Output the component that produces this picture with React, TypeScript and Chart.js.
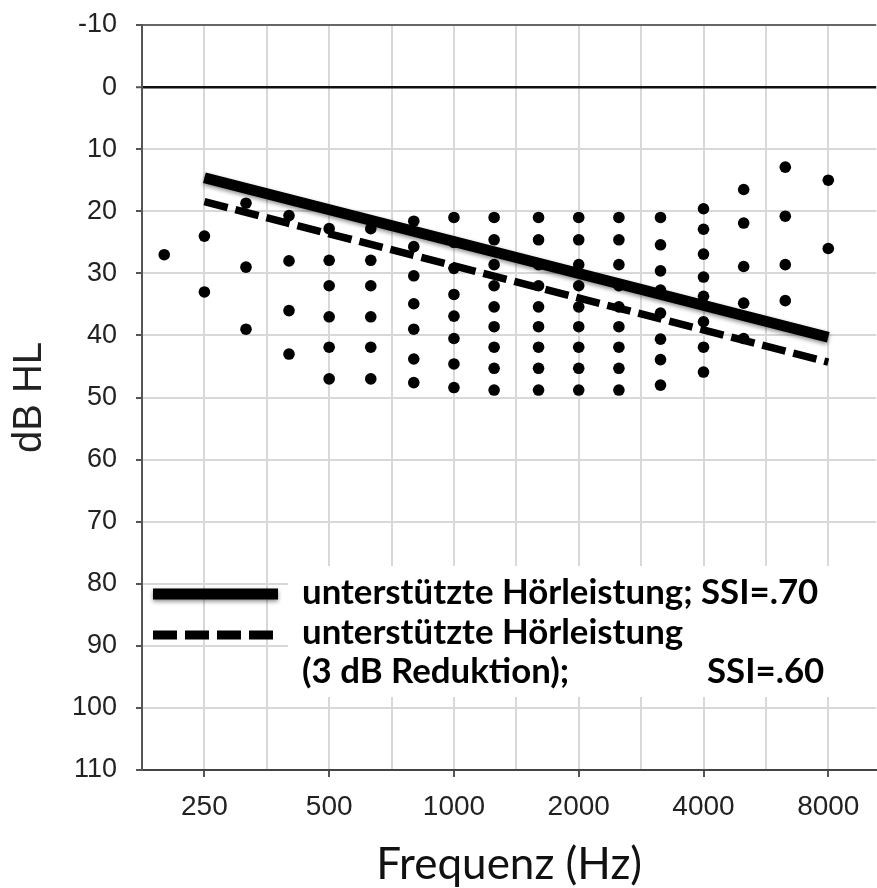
import React, { useEffect, useRef } from "react";
import { Chart, registerables } from "chart.js";

Chart.register(...registerables);

// Third-octave bands (Hz) where individual thresholds are plotted
const bandHz = [200, 250, 315, 400, 500, 630, 800, 1000, 1250, 1600, 2000, 2500, 3150, 4000, 5000, 6300, 8000];

// Individual aided thresholds (dB HL) per band
const hl200 = [27];
const hl250 = [24, 33];
const hl315 = [18.7, 29, 39];
const hl400 = [20.7, 28, 36, 43];
const hl500 = [22.8, 27.9, 32, 37, 41.9, 47];
const hl630 = [22.8, 27.9, 32, 37, 41.9, 47];
const hl800 = [21.6, 25.7, 30.4, 34.9, 39, 43.8, 47.6];
const hl1000 = [21, 25, 29.2, 33.4, 36.9, 40.5, 44.6, 48.4];
const hl1250 = [21, 24.6, 28.6, 32, 35.4, 38.6, 41.9, 45.3, 48.8];
const hl1600 = [21, 24.6, 28.6, 32, 35.4, 38.6, 41.9, 45.3, 48.8];
const hl2000 = [21, 24.6, 28.6, 32, 35.4, 38.6, 41.9, 45.3, 48.8];
const hl2500 = [21, 24.6, 28.6, 32, 35.4, 38.6, 41.9, 45.3, 48.8];
const hl3150 = [21, 25.4, 29.6, 32.7, 36.4, 40.6, 43.9, 48];
const hl4000 = [19.6, 22.9, 26.9, 30.6, 33.7, 37.8, 41.9, 45.9];
const hl5000 = [16.5, 21.9, 28.9, 34.8, 40.5];
const hl6300 = [12.9, 20.8, 28.6, 34.4];
const hl8000 = [15, 26];
const hlByBand = [hl200, hl250, hl315, hl400, hl500, hl630, hl800, hl1000, hl1250, hl1600, hl2000, hl2500, hl3150, hl4000, hl5000, hl6300, hl8000];

// Regression lines
const lineHz = [250, 8000];
const aidedDb = [14.6, 40.3];
const aidedReducedDb = [18.45, 44.3];

// Axis ticks
const octaveLabels = [250, 500, 1000, 2000, 4000, 8000];
const gridHz = [176.78, 250, 353.55, 500, 707.11, 1000, 1414.2, 2000, 2828.4, 4000, 5656.9, 8000];
const dbTicks = [-10, 0, 10, 20, 30, 40, 50, 60, 70, 80, 90, 100, 110];

// Legend text
const legendLine1 = "unterstützte Hörleistung; SSI=.70";
const legendLine2 = "unterstützte Hörleistung";
const legendLine3a = "(3 dB Reduktion);";
const legendLine3b = "SSI=.60";

const W = 877;
const H = 888;
const CW = W + 5; // canvas a bit wider; plot area runs off the right edge

const shadowPlugin = {
  id: "solidShadow",
  beforeDatasetDraw(chart: any, args: any) {
    if (args.index === 0) {
      const ctx = chart.ctx;
      ctx.save();
      ctx.shadowColor = "rgba(0,0,0,0.45)";
      ctx.shadowBlur = 4;
      ctx.shadowOffsetY = 2;
    }
  },
  afterDatasetDraw(chart: any, args: any) {
    if (args.index === 0) chart.ctx.restore();
  },
};

const legendPlugin = {
  id: "customLegend",
  afterDraw(chart: any) {
    const ctx = chart.ctx;
    ctx.save();
    ctx.fillStyle = "#fff";
    ctx.fillRect(288, 566, CW - 288, 131);
    // solid sample
    ctx.save();
    ctx.shadowColor = "rgba(0,0,0,0.45)";
    ctx.shadowBlur = 4;
    ctx.shadowOffsetY = 2;
    ctx.strokeStyle = "#000";
    ctx.lineWidth = 11;
    ctx.lineCap = "butt";
    ctx.beginPath();
    ctx.moveTo(153, 594);
    ctx.lineTo(278, 594);
    ctx.stroke();
    ctx.restore();
    // dashed sample
    ctx.strokeStyle = "#000";
    ctx.lineWidth = 9;
    ctx.setLineDash([24, 8]);
    ctx.beginPath();
    ctx.moveTo(153, 635);
    ctx.lineTo(273, 635);
    ctx.stroke();
    ctx.setLineDash([]);
    // text
    ctx.fillStyle = "#000";
    ctx.font = "bold 34.8px Lato";
    ctx.textBaseline = "alphabetic";
    ctx.textAlign = "left";
    ctx.fillText(legendLine1, 302, 604);
    ctx.fillText(legendLine2, 302, 644);
    ctx.fillText(legendLine3a, 302, 683);
    ctx.fillText(legendLine3b, 707, 683);
    ctx.restore();
  },
};

export default function App() {
  const ref = useRef<HTMLCanvasElement | null>(null);

  useEffect(() => {
    if (!ref.current) return;
    const dots: { x: number; y: number }[] = [];
    bandHz.forEach((hz, i) => hlByBand[i].forEach((db) => dots.push({ x: hz, y: db })));

    const xMin = 250 / Math.SQRT2;
    const xMax = 8000 * Math.pow(2, 48 / 125);

    const chart = new Chart(ref.current, {
      type: "scatter",
      data: {
        datasets: [
          {
            type: "line",
            label: "aided",
            data: lineHz.map((x, i) => ({ x, y: aidedDb[i] })),
            borderColor: "#000",
            borderWidth: 11,
            borderCapStyle: "butt",
            pointRadius: 0,
            fill: false,
            order: 0,
          } as any,
          {
            type: "line",
            label: "aided reduced",
            data: lineHz.map((x, i) => ({ x, y: aidedReducedDb[i] })),
            borderColor: "#000",
            borderWidth: 7.5,
            borderDash: [24, 8],
            borderCapStyle: "butt",
            pointRadius: 0,
            fill: false,
            order: 1,
          } as any,
          {
            type: "scatter",
            label: "thresholds",
            data: dots,
            pointRadius: 5.8,
            pointBackgroundColor: "#000",
            pointBorderWidth: 0,
            backgroundColor: "#000",
            borderWidth: 0,
            order: 2,
          } as any,
        ],
      },
      options: {
        animation: false,
        responsive: false,
        maintainAspectRatio: false,
        layout: { padding: { top: 25, left: 0, right: 0, bottom: 0 } },
        plugins: { legend: { display: false }, tooltip: { enabled: false } },
        scales: {
          x: {
            type: "logarithmic",
            min: xMin,
            max: xMax,
            afterBuildTicks: (scale: any) => {
              scale.ticks = gridHz.map((v) => ({ value: v }));
            },
            afterFit: (scale: any) => {
              scale.height = H - 770;
              scale.paddingLeft = 0;
              scale.paddingRight = 0;
            },
            ticks: {
              autoSkip: false,
              maxRotation: 0,
              padding: 13,
              color: "#222",
              font: { family: "Liberation Sans", size: 28 },
              callback: (v: any) => {
                const n = Math.round(Number(v));
                return octaveLabels.includes(n) ? String(n) : "";
              },
            },
            grid: {
              color: "#d8d8d8",
              lineWidth: 2,
              tickLength: 7,
              tickWidth: 2,
              tickColor: (c: any) =>
                c.tick && octaveLabels.includes(Math.round(c.tick.value)) ? "#555" : "rgba(0,0,0,0)",
            },
            border: { display: true, color: "#444", width: 2 },
            title: {
              display: true,
              text: "Frequenz (Hz)",
              color: "#111",
              font: { family: "Lato", size: 44, lineHeight: 1 },
              padding: { top: 0, bottom: 1 },
            },
          },
          y: {
            type: "linear",
            reverse: true,
            min: -10,
            max: 110,
            afterBuildTicks: (scale: any) => {
              scale.ticks = dbTicks.map((v) => ({ value: v }));
            },
            afterFit: (scale: any) => {
              scale.width = 142;
              scale.paddingTop = 0;
              scale.paddingBottom = 0;
            },
            ticks: {
              padding: 19,
              color: "#222",
              font: { family: "Liberation Sans", size: 27 },
            },
            grid: {
              color: (c: any) =>
                c.tick && c.tick.value === 0 ? "#111" : c.tick && c.tick.value === -10 ? "#666" : "#d8d8d8",
              lineWidth: (c: any) => (c.tick && c.tick.value === 0 ? 2.5 : 2),
              tickLength: 6,
              tickWidth: 2,
              tickColor: "#555",
            },
            border: { display: true, color: "#555", width: 2 },
            title: {
              display: true,
              text: "dB HL",
              color: "#222",
              font: { family: "Liberation Sans", size: 40, lineHeight: 1.2 },
              padding: { top: 6, bottom: 0 },
            },
          },
        },
      },
      plugins: [shadowPlugin, legendPlugin],
    } as any);

    return () => chart.destroy();
  }, []);

  return (
    <div style={{ position: "absolute", left: 0, top: 0, width: W, height: H, overflow: "hidden", background: "#fff" }}>
      <canvas ref={ref} width={CW} height={H} style={{ display: "block", width: CW, height: H }} />
    </div>
  );
}
